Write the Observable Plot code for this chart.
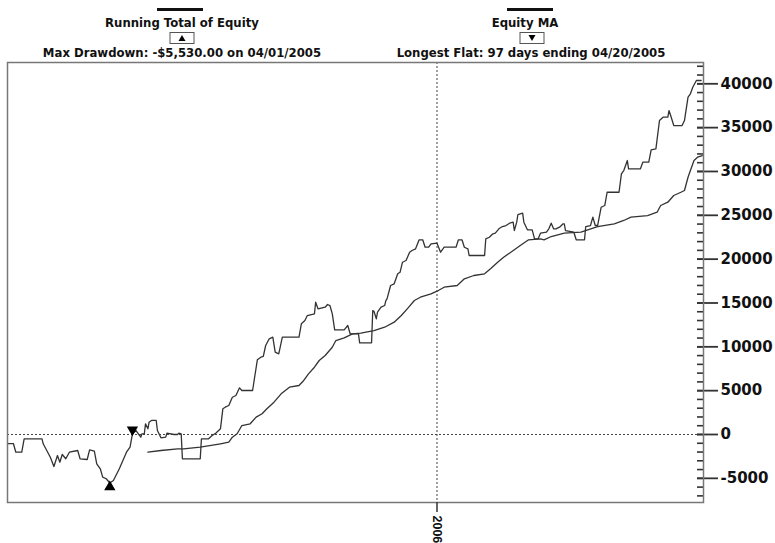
<!DOCTYPE html>
<html><head><meta charset="utf-8">
<script src="https://cdn.jsdelivr.net/npm/d3@7"></script>
<script src="https://cdn.jsdelivr.net/npm/@observablehq/plot@0.6"></script>
<style>
body{margin:0;background:#fff;}
#wrap{position:relative;width:775px;height:543px;overflow:hidden;font-family:"DejaVu Sans",sans-serif;font-weight:bold;}
#head{position:relative;height:60px;}
.lbl{position:absolute;white-space:nowrap;font-size:11.7px;line-height:14px;transform:translateX(-50%);color:#111;}
.bar{position:absolute;height:3px;background:#111;transform:translateX(-50%);width:46px;}
.box{position:absolute;width:23px;height:10px;border:1px solid #555;background:#fff;transform:translateX(-50%);}
.box svg{display:block;}
#chart svg{display:block;overflow:visible;}
</style></head><body>
<div id="wrap"><div id="head"></div><div id="chart"></div></div>
<script>
// ---- data ----
const startDate = "2005-01-05";
const endDate = "2006-08-13";
const yearTick = "2006-01-01";
const seriesNames = ["Running Total of Equity", "Equity MA"];
const seriesNotes = ["Max Drawdown: -$5,530.00 on 04/01/2005", "Longest Flat: 97 days ending 04/20/2005"];
const maxDrawdownDate = "2005-04-01";
const maxDrawdownValue = -5530;
const flatEndDate = "2005-04-20";
const flatEndValue = 80;
const yMajorTicks = [-5000, 0, 5000, 10000, 15000, 20000, 25000, 30000, 35000, 40000];
const yMinorTicks = d3.range(-7000, 42001, 1000);
const yDomain = [-7756, 42429];

// equity: day offset from startDate, value
const eqDays = [0,5,7,12,14,29,30,33,36,39,42,44,46,49,52,59,61,67,69,73,75,78,80,83,86,89,94,97,100,103,105,108,110,112,113,115,116,118,119,121,125,126,129,133,134,140,143,144,146,147,162,163,169,172,175,179,181,183,186,189,192,195,197,206,210,213,215,217,220,223,225,228,231,245,247,250,252,258,259,261,267,269,271,273,275,283,286,288,295,296,306,307,308,310,311,314,317,318,319,322,325,328,330,332,335,338,340,343,346,349,351,354,356,361,364,366,367,377,379,382,384,387,388,401,402,405,408,410,413,416,419,422,425,426,428,429,433,434,437,441,443,446,448,453,455,457,459,461,464,467,468,469,476,478,485,486,490,492,494,496,499,502,504,514,516,518,521,522,532,534,539,541,545,548,551,555,556,558,560,567,569,572,574,576,579,583];
const eqValues = [-1050,-1050,-2020,-2020,-490,-490,-1060,-1825,-2590,-3650,-2395,-3160,-2280,-2770,-2020,-1825,-2770,-2850,-1745,-1905,-3340,-3910,-4870,-5050,-5530,-5250,-3910,-2965,-2020,-1450,80,455,80,-305,80,80,1220,650,1400,1600,1600,455,-380,-305,150,0,0,150,80,-2770,-2770,-490,-490,-115,150,650,2930,3115,3310,4250,4450,5325,5020,5020,8520,8815,8900,10150,10915,11100,9385,9205,11100,11100,12625,13000,13570,13765,15090,14335,14520,14825,14710,13765,11940,11940,12430,11485,11485,10460,10460,14140,14060,13195,13950,14520,14710,15280,15475,16995,17185,18330,18510,19650,19845,20790,20985,21180,22205,22205,21360,21360,21750,21820,20790,21180,21360,21360,22205,22205,21360,21180,20415,20415,22320,22500,22890,22960,23460,23720,23835,24100,24215,23265,24215,25090,25240,24215,23345,23345,22320,22320,22960,23075,23460,24100,23460,23460,23645,24030,24030,23265,23075,22205,22205,23720,23835,24785,23835,23835,25920,26115,27630,27630,29730,30110,31250,30300,30300,31055,31055,32470,32580,35810,36190,36190,36950,36120,35240,35240,35810,38470,38860,39610,40375,40375];

// moving average
const maDays = [118,129,143,148,162,179,186,189,193,197,204,209,214,218,224,230,237,245,249,253,258,262,267,273,276,283,290,297,308,317,325,331,336,342,347,356,361,367,378,384,392,401,406,412,417,426,431,438,448,451,457,468,482,496,510,518,524,538,546,549,555,560,566,569,572,574,577,580,584];
const maValues = [-2020,-1825,-1630,-1630,-1450,-1060,-880,-305,80,1025,1220,1975,2360,2930,3685,4640,5395,5590,6160,6920,7675,8440,9010,9955,10720,11030,11485,11555,11860,12235,12810,13570,14335,15280,15660,16045,16345,16800,16995,17755,18135,18330,18900,19650,20220,21065,21555,22205,22320,22205,22580,22960,23075,23720,24030,24410,24785,24975,25355,26115,26495,27260,27630,27830,29345,30110,31250,31625,31820];

// ---- build ----
const t0 = new Date(startDate);
const tEnd = new Date(endDate);
const equity = eqDays.map((d, i) => ({date: d3.utcDay.offset(t0, d), value: eqValues[i]}));
const ma = maDays.map((d, i) => ({date: d3.utcDay.offset(t0, d), value: maValues[i]}));
const tYear = new Date(yearTick);

// header legend
const head = document.getElementById("head");
const centers = [182, 531];
const barCenters = [180, 530];
const boxCenters = [182, 532];
seriesNames.forEach((name, i) => {
  const bar = document.createElement("div");
  bar.className = "bar"; bar.style.left = barCenters[i] + "px"; bar.style.top = "8px";
  head.appendChild(bar);
  const t = document.createElement("div");
  t.className = "lbl"; t.textContent = name; t.style.left = (centers[i] - (i ? 6 : 0)) + "px"; t.style.top = "15.5px";
  head.appendChild(t);
  const box = document.createElement("div");
  box.className = "box"; box.style.left = boxCenters[i] + "px"; box.style.top = "32px";
  box.innerHTML = i === 0
    ? '<svg width="23" height="10"><polygon points="8,8 15,8 11.5,2" fill="#000"/></svg>'
    : '<svg width="23" height="10"><polygon points="8,2 15,2 11.5,8" fill="#000"/></svg>';
  head.appendChild(box);
  const n = document.createElement("div");
  n.className = "lbl"; n.textContent = seriesNotes[i]; n.style.left = centers[i] + "px"; n.style.top = "46px";
  head.appendChild(n);
});

const W = 775, ML = 7, MR = 72;
const frameW = W - ML - MR;
const lineColor = "#333";
const tickColor = "#333";
const chart = Plot.plot({
  width: W,
  height: 483,
  marginTop: 2,
  marginBottom: 41,
  marginLeft: ML,
  marginRight: MR,
  x: {type: "utc", domain: [t0, tEnd], label: null},
  y: {domain: yDomain, label: null},
  marks: [
    Plot.ruleY([0], {stroke: "#444", strokeDasharray: "2,2", strokeWidth: 1}),
    Plot.ruleX([tYear], {stroke: "#444", strokeDasharray: "2,2", strokeWidth: 1}),
    Plot.line(ma, {x: "date", y: "value", stroke: lineColor, strokeWidth: 1.3}),
    Plot.line(equity, {x: "date", y: "value", stroke: lineColor, strokeWidth: 1.3}),
    Plot.dot([{date: new Date(maxDrawdownDate), value: maxDrawdownValue}], {x: "date", y: "value", symbol: "triangle", r: 4.2, fill: "#000", stroke: "none", dy: 4}),
    Plot.dot([{date: new Date(flatEndDate), value: flatEndValue}], {x: "date", y: "value", symbol: "triangle", r: 4.2, fill: "#000", stroke: "none", rotate: 180, dy: -4}),
    // minor ticks (inside the frame, 6px)
    Plot.ruleY(yMinorTicks, {y: d => d, insetLeft: frameW - 6, stroke: tickColor, strokeWidth: 1.6}),
    // major ticks (6px inside, 15px outside)
    Plot.ruleY(yMajorTicks, {y: d => d, insetLeft: frameW - 6, insetRight: -15, stroke: tickColor, strokeWidth: 1.8}),
    Plot.frame({stroke: "#777", strokeWidth: 1.5}),
    Plot.axisY({anchor: "right", ticks: yMajorTicks, tickSize: 0, tickPadding: 17, tickFormat: d => String(d), label: null,
      fontFamily: "DejaVu Sans", fontWeight: "bold", fontSize: 15, fill: "#111"}),
    Plot.axisX({ticks: [tYear], tickSize: 10, tickPadding: 3, tickRotate: 90, tickFormat: "%Y", label: null,
      fontFamily: "Liberation Sans", fontWeight: "bold", fontSize: 12.5, stroke: "#333", strokeWidth: 1.5, fill: "#111"})
  ]
});
document.getElementById("chart").appendChild(chart);
</script>
</body></html>
